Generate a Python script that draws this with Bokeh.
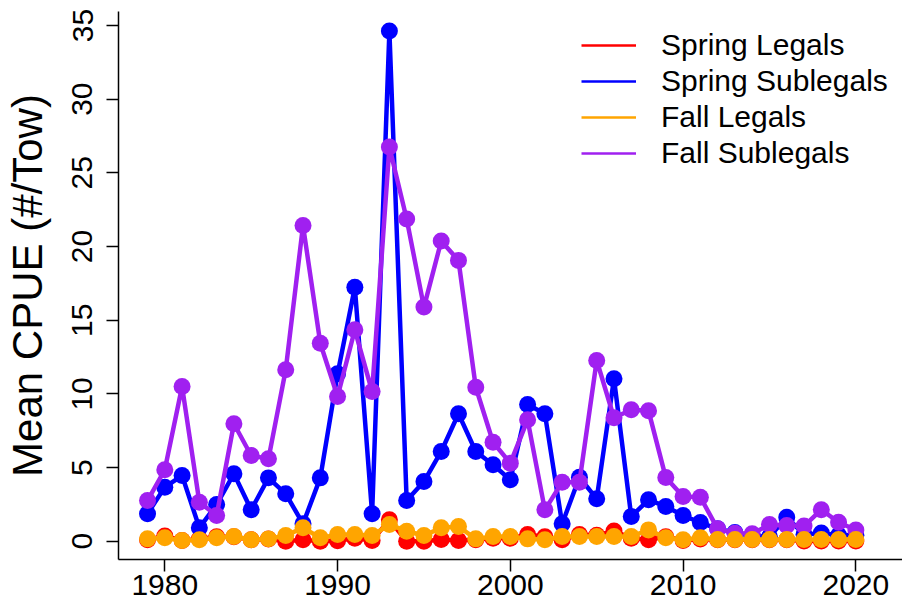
from bokeh.plotting import figure
from bokeh.models import Range1d, FixedTicker, Legend, LegendItem
from bokeh.embed import file_html
from bokeh.resources import INLINE

years = list(range(1979, 2021))

spring_legals = [0.10, 0.35, 0.05, 0.15, 0.30, 0.30, 0.10, 0.15, 0.00, 0.10,
                 0.00, 0.03, 0.20, 0.05, 1.45, 0.00, 0.00, 0.11, 0.05, 0.10,
                 0.20, 0.20, 0.45, 0.30, 0.10, 0.45, 0.40, 0.70, 0.20, 0.10,
                 0.30, 0.05, 0.15, 0.10, 0.10, 0.10, 0.10, 0.10, 0.02, 0.02,
                 0.02, 0.02]

spring_sublegals = [1.86, 3.67, 4.46, 0.91, 2.49, 4.58, 2.13, 4.30, 3.22, 1.18,
                    4.30, 11.36, 17.24, 1.86, 34.62, 2.76, 4.05, 6.09, 8.65, 6.09,
                    5.19, 4.17, 9.28, 8.65, 1.18, 4.34, 2.88, 11.03, 1.68, 2.81,
                    2.36, 1.74, 1.27, 0.84, 0.59, 0.35, 0.30, 1.63, 0.45, 0.55,
                    0.40, 0.40]

fall_legals = [0.16, 0.23, 0.05, 0.10, 0.23, 0.32, 0.10, 0.16, 0.39, 0.91,
               0.23, 0.45, 0.45, 0.39, 1.13, 0.68, 0.39, 0.91, 1.00, 0.16,
               0.32, 0.32, 0.16, 0.10, 0.32, 0.32, 0.32, 0.32, 0.32, 0.77,
               0.23, 0.10, 0.23, 0.12, 0.12, 0.12, 0.12, 0.12, 0.12, 0.12,
               0.12, 0.12]

fall_sublegals = [2.76, 4.85, 10.50, 2.65, 1.74, 7.97, 5.82, 5.59, 11.64, 21.43,
                  13.44, 9.82, 14.35, 10.16, 26.75, 21.87, 15.89, 20.37, 19.06, 10.45,
                  6.72, 5.30, 8.24, 2.13, 4.01, 4.01, 12.27, 8.38, 8.92, 8.85,
                  4.32, 3.03, 2.99, 0.84, 0.54, 0.50, 1.13, 1.07, 1.03, 2.14,
                  1.29, 0.76]

series_names = ["Spring Legals", "Spring Sublegals", "Fall Legals", "Fall Sublegals"]
series_colors = ["#FF0000", "#0000FF", "#FFA500", "#A020F0"]
series_values = [spring_legals, spring_sublegals, fall_legals, fall_sublegals]
draw_order = [0, 1, 3, 2]

x_ticks = [1980, 1990, 2000, 2010, 2020]
y_ticks = [0, 5, 10, 15, 20, 25, 30, 35]
y_label = "Mean CPUE (#/Tow)"

FONT = "Liberation Sans"

p = figure(width=902, height=611, output_backend="svg", toolbar_location=None,
           x_range=Range1d(1977.32, 2022.70), y_range=Range1d(-1.24, 35.95),
           min_border_left=118, min_border_right=0, min_border_top=11,
           min_border_bottom=52)
p.outline_line_color = None
p.grid.visible = False
p.background_fill_color = "white"
p.border_fill_color = "white"

# thin copies of the lines (hidden beneath the thick ones) serve as legend glyphs
legend_renderers = {}
for i in draw_order:
    legend_renderers[i] = p.line(years, series_values[i], line_color=series_colors[i],
                                 line_width=2.5)
    p.line(years, series_values[i], line_color=series_colors[i], line_width=4.5,
           line_join="round")
    p.scatter(years, series_values[i], marker="circle", size=17,
              fill_color=series_colors[i], line_color=None)

# axes
p.xaxis.ticker = FixedTicker(ticks=x_ticks)
p.yaxis.ticker = FixedTicker(ticks=y_ticks)
for ax in (p.xaxis, p.yaxis):
    ax.axis_line_color = "black"
    ax.axis_line_width = 1.5
    ax.major_tick_line_color = "black"
    ax.major_tick_line_width = 1.5
    ax.major_tick_out = 12
    ax.major_tick_in = 0
    ax.minor_tick_line_color = None
    ax.major_label_text_font = FONT
    ax.major_label_text_font_size = "30px"
    ax.major_label_text_color = "black"
p.xaxis.major_label_standoff = 3
p.yaxis.major_label_orientation = "vertical"
p.yaxis.major_label_standoff = 14
p.yaxis.axis_label = y_label
p.yaxis.axis_label_text_font = FONT
p.yaxis.axis_label_text_font_size = "42px"
p.yaxis.axis_label_text_font_style = "normal"
p.yaxis.axis_label_text_color = "black"
p.yaxis.axis_label_standoff = 19

# legend (lines only)
items = [LegendItem(label=series_names[i], renderers=[legend_renderers[i]])
         for i in range(4)]
legend = Legend(items=items, location=(463, 389), glyph_width=55, glyph_height=30,
                label_standoff=25, spacing=2, padding=0, margin=0,
                label_text_font=FONT, label_text_font_size="30px",
                label_text_color="black", border_line_color=None,
                background_fill_alpha=0)
p.add_layout(legend)

open("out.html", "w").write(file_html(p, INLINE))
